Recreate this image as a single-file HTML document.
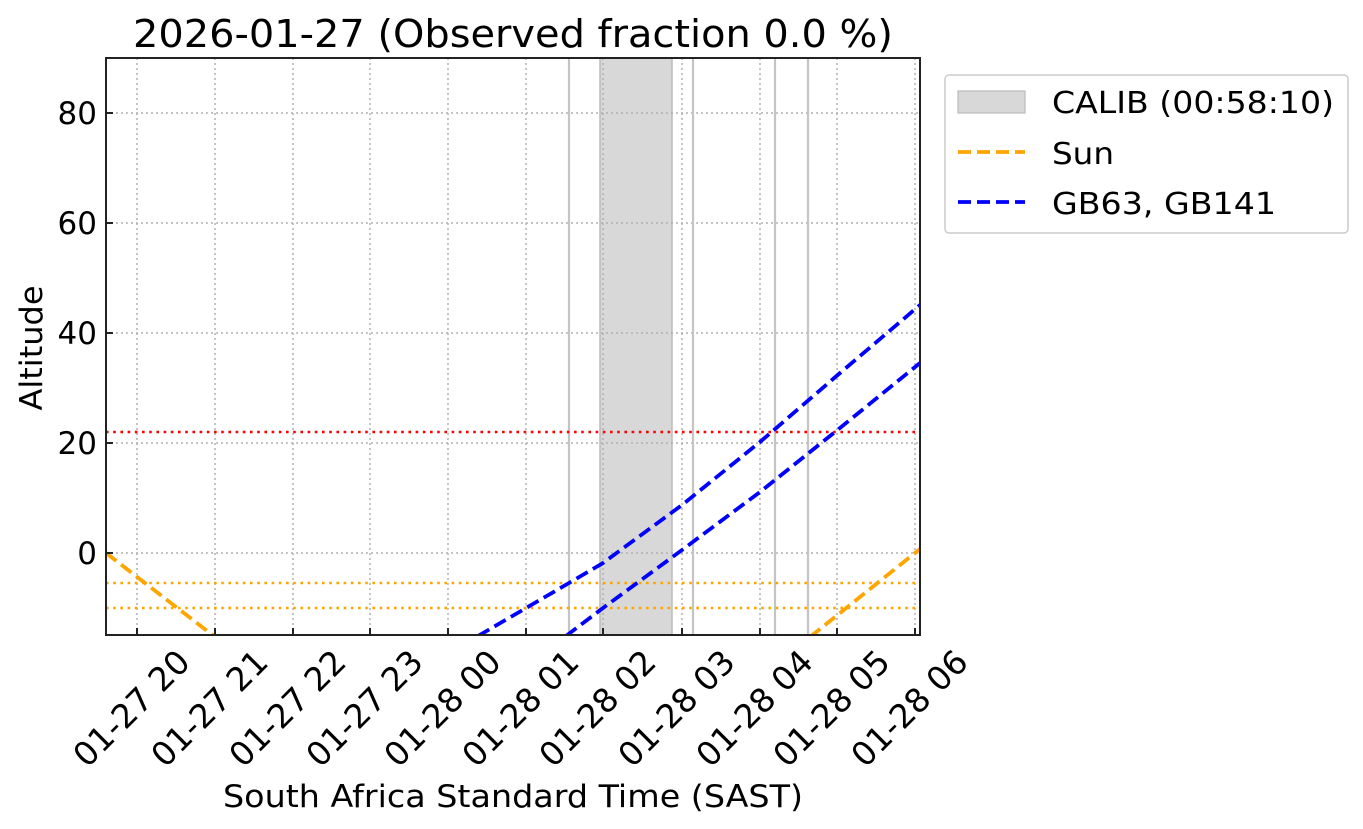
<!DOCTYPE html>
<html><head><meta charset="utf-8"><style>body{margin:0;background:#fff}svg{display:block}text{font-family:"DejaVu Sans","Liberation Sans",sans-serif;fill:#000}</style></head>
<body>
<svg width="1363" height="829" viewBox="0 0 1363 829" xmlns="http://www.w3.org/2000/svg">
<rect width="1363" height="829" fill="#fff"/>
<defs><clipPath id="c"><rect x="106" y="58" width="814" height="577"/></clipPath></defs>
<text x="513" y="47" font-size="38" text-anchor="middle" textLength="760" lengthAdjust="spacingAndGlyphs">2026-01-27 (Observed fraction 0.0 %)</text>
<g clip-path="url(#c)">
<rect x="600" y="58" width="72" height="577" fill="#d8d8d8" stroke="#bbb" stroke-width="1.5"/>
<g stroke="#b0b0b0" stroke-width="1.5" stroke-dasharray="2,3">
<line x1="137" y1="58" x2="137" y2="635"/><line x1="215" y1="58" x2="215" y2="635"/><line x1="293" y1="58" x2="293" y2="635"/><line x1="370" y1="58" x2="370" y2="635"/><line x1="448" y1="58" x2="448" y2="635"/><line x1="526" y1="58" x2="526" y2="635"/><line x1="603" y1="58" x2="603" y2="635"/><line x1="682" y1="58" x2="682" y2="635"/><line x1="760" y1="58" x2="760" y2="635"/><line x1="837" y1="58" x2="837" y2="635"/><line x1="915" y1="58" x2="915" y2="635"/>
<line x1="106" y1="113" x2="920" y2="113"/><line x1="106" y1="223" x2="920" y2="223"/><line x1="106" y1="333" x2="920" y2="333"/><line x1="106" y1="443" x2="920" y2="443"/><line x1="106" y1="553" x2="920" y2="553"/>
</g>
<g stroke="#c4c4c4" stroke-width="2.2"><line x1="569" y1="58" x2="569" y2="635"/><line x1="693" y1="58" x2="693" y2="635"/><line x1="775" y1="58" x2="775" y2="635"/><line x1="808" y1="58" x2="808" y2="635"/></g>
<line x1="106" y1="432" x2="920" y2="432" stroke="#f00" stroke-width="2.6" stroke-dasharray="2.6,4.6"/>
<line x1="106" y1="583" x2="920" y2="583" stroke="#ffa500" stroke-width="2.6" stroke-dasharray="2.6,4.6"/>
<line x1="106" y1="608" x2="920" y2="608" stroke="#ffa500" stroke-width="2.6" stroke-dasharray="2.6,4.6"/>
<g fill="none" stroke-width="3.8" stroke-dasharray="13,6">
<polyline stroke="#ffa500" points="106,553 215,637"/>
<polyline stroke="#ffa500" points="810,637 915,553 920,549"/>
<polyline stroke="#00f" points="478,636 569,583 603,563 682,505 760,442 840,373 920,305"/>
<polyline stroke="#00f" points="566,636 603,608 682,550 760,492 835,432 920,363"/>
</g>
</g>
<rect x="106" y="58" width="814" height="577" fill="none" stroke="#222" stroke-width="2"/>
<g stroke="#222" stroke-width="2">
<line x1="106" y1="113" x2="113" y2="113"/><line x1="106" y1="223" x2="113" y2="223"/><line x1="106" y1="333" x2="113" y2="333"/><line x1="106" y1="443" x2="113" y2="443"/><line x1="106" y1="553" x2="113" y2="553"/>
<line x1="137" y1="635" x2="137" y2="628"/><line x1="215" y1="635" x2="215" y2="628"/><line x1="293" y1="635" x2="293" y2="628"/><line x1="370" y1="635" x2="370" y2="628"/><line x1="448" y1="635" x2="448" y2="628"/><line x1="526" y1="635" x2="526" y2="628"/><line x1="603" y1="635" x2="603" y2="628"/><line x1="682" y1="635" x2="682" y2="628"/><line x1="760" y1="635" x2="760" y2="628"/><line x1="837" y1="635" x2="837" y2="628"/><line x1="915" y1="635" x2="915" y2="628"/>
</g>
<g font-size="31" text-anchor="end">
<text x="97" y="124">80</text><text x="97" y="234">60</text><text x="97" y="344">40</text><text x="97" y="454">20</text><text x="97" y="564">0</text>
</g>
<g font-size="33" text-anchor="end">
<text transform="translate(192,664) rotate(-45)">01-27 20</text>
<text transform="translate(270,664) rotate(-45)">01-27 21</text>
<text transform="translate(348,664) rotate(-45)">01-27 22</text>
<text transform="translate(425,664) rotate(-45)">01-27 23</text>
<text transform="translate(503,664) rotate(-45)">01-28 00</text>
<text transform="translate(581,664) rotate(-45)">01-28 01</text>
<text transform="translate(658,664) rotate(-45)">01-28 02</text>
<text transform="translate(737,664) rotate(-45)">01-28 03</text>
<text transform="translate(815,664) rotate(-45)">01-28 04</text>
<text transform="translate(892,664) rotate(-45)">01-28 05</text>
<text transform="translate(970,664) rotate(-45)">01-28 06</text>
</g>
<text x="513" y="807" font-size="31" text-anchor="middle" textLength="580" lengthAdjust="spacingAndGlyphs">South Africa Standard Time (SAST)</text>
<text transform="translate(42,348) rotate(-90)" font-size="31" text-anchor="middle" textLength="125" lengthAdjust="spacingAndGlyphs">Altitude</text>
<rect x="945" y="75" width="403" height="158" rx="4" fill="#fff" stroke="#ccc" stroke-width="1.5"/>
<rect x="958" y="91" width="67" height="22" fill="#d8d8d8" stroke="#bbb" stroke-width="1.2"/>
<line x1="958" y1="152" x2="1025" y2="152" stroke="#ffa500" stroke-width="3.8" stroke-dasharray="13,6"/>
<line x1="958" y1="202" x2="1025" y2="202" stroke="#00f" stroke-width="3.8" stroke-dasharray="13,6"/>
<g font-size="30">
<text x="1052" y="113" textLength="282" lengthAdjust="spacingAndGlyphs">CALIB (00:58:10)</text>
<text x="1052" y="164" textLength="62" lengthAdjust="spacingAndGlyphs">Sun</text>
<text x="1052" y="214" textLength="224" lengthAdjust="spacingAndGlyphs">GB63, GB141</text>
</g>
</svg>
</body></html>
